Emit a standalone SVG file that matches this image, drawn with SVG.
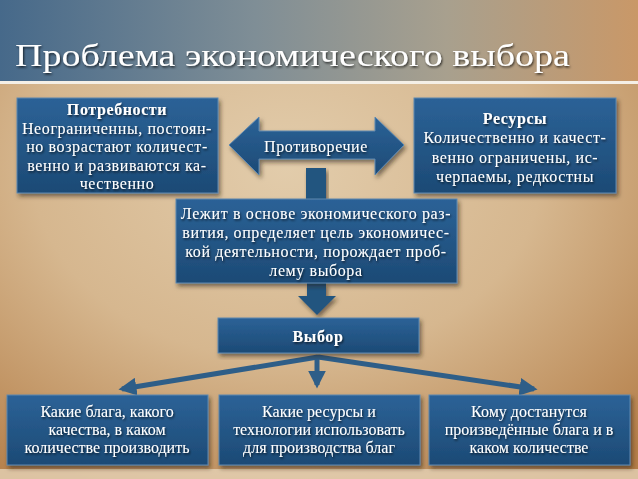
<svg xmlns="http://www.w3.org/2000/svg" width="638" height="479" viewBox="0 0 638 479">
<defs>
<linearGradient id="top" x1="0" y1="0" x2="1" y2="0">
<stop offset="0" stop-color="#46698a"/>
<stop offset="0.4" stop-color="#7f8e96"/>
<stop offset="0.7" stop-color="#a8a08e"/>
<stop offset="1" stop-color="#c99868"/>
</linearGradient>
<radialGradient id="paper" cx="0.45" cy="0.35" r="0.8">
<stop offset="0" stop-color="#e2ccab"/>
<stop offset="0.5" stop-color="#d6b78f"/>
<stop offset="1" stop-color="#b47e48"/>
</radialGradient>
<linearGradient id="box" x1="0" y1="0" x2="0" y2="1">
<stop offset="0" stop-color="#2c6297"/>
<stop offset="1" stop-color="#1c4a75"/>
</linearGradient>
<filter id="sh" x="-10%" y="-10%" width="125%" height="130%">
<feDropShadow dx="2" dy="3" stdDeviation="2" flood-color="#2a1a0a" flood-opacity="0.55"/>
</filter>
<filter id="tsh" x="-5%" y="-20%" width="110%" height="150%">
<feDropShadow dx="1" dy="1.5" stdDeviation="1" flood-color="#000" flood-opacity="0.7"/>
</filter>
<marker id="ah" viewBox="0 0 10 10" refX="8" refY="5" markerWidth="3.6" markerHeight="3.6" orient="auto" markerUnits="strokeWidth">
<path d="M0,0 L10,5 L0,10 Z" fill="#2e5e88"/>
</marker>
<style>
.bx{fill:url(#box);stroke:#5d88b0;stroke-width:1;filter:url(#sh)}
.t{font-family:"Liberation Serif","DejaVu Serif",serif;font-size:16px;letter-spacing:0.6px;fill:#ffffff;text-anchor:middle}
.b{font-weight:bold}
.tb{font-family:"Liberation Serif","DejaVu Serif",serif;font-size:16px;fill:#ffffff;text-anchor:middle}
.ttl{font-family:"Liberation Serif","DejaVu Serif",serif;font-size:31px;fill:#ffffff}
.cn{fill:none;stroke:#2e5e88;stroke-width:5;marker-end:url(#ah)}
</style>
</defs>
<rect x="0" y="0" width="638" height="479" fill="url(#paper)"/>
<rect x="0" y="469" width="638" height="10" fill="#e6d3b8" opacity="0.8"/>
<rect x="0" y="0" width="638" height="81" fill="url(#top)"/>
<rect x="0" y="81" width="638" height="3" fill="#f4efe6"/>
<text class="ttl" x="15" y="66" filter="url(#tsh)" textLength="555" lengthAdjust="spacingAndGlyphs">Проблема экономического выбора</text>

<g id="potrebnosti">
<rect class="bx" x="17" y="98" width="201" height="95"/>
<text class="t" filter="url(#tsh)"><tspan class="b" x="117" y="115">Потребности</tspan><tspan x="117" y="134">Неограниченны, постоян-</tspan><tspan x="117" y="152">но возрастают количест-</tspan><tspan x="117" y="171">венно и развиваются ка-</tspan><tspan x="117" y="189">чественно</tspan></text>
</g>

<g id="resursy">
<rect class="bx" x="414" y="98" width="202" height="95"/>
<text class="t" filter="url(#tsh)"><tspan class="b" x="515" y="124">Ресурсы</tspan><tspan x="515" y="143">Количественно и качест-</tspan><tspan x="515" y="163">венно ограничены, ис-</tspan><tspan x="515" y="182">черпаемы, редкостны</tspan></text>
</g>

<g id="protivorechie">
<path class="bx" d="M229,145 L259,117 L259,131 L375,131 L375,117 L404,145 L375,175 L375,159 L259,159 L259,175 Z"/>
<text class="t" x="316" y="152" filter="url(#tsh)">Противоречие</text>
</g>

<g id="connectors">
<rect x="306" y="168" width="20" height="32" fill="#24557f" filter="url(#sh)"/>
<path d="M307,283 L326,283 L326,296 L336,296 L317,315 L298,296 L307,296 Z" fill="#24557f" filter="url(#sh)"/>
<path class="cn" d="M318,357 L122,389"/>
<path class="cn" d="M318,357 L534,389"/>
<path class="cn" d="M317,355 L317,385"/>
</g>

<g id="lezhit">
<rect class="bx" x="176" y="199" width="281" height="84"/>
<text class="t" filter="url(#tsh)"><tspan x="316" y="219">Лежит в основе экономического раз-</tspan><tspan x="316" y="238">вития, определяет цель экономичес-</tspan><tspan x="316" y="257">кой деятельности, порождает проб-</tspan><tspan x="316" y="276">лему выбора</tspan></text>
</g>

<g id="vybor">
<rect class="bx" x="218" y="318" width="201" height="35"/>
<text class="t b" x="318" y="342" filter="url(#tsh)">Выбор</text>
</g>

<g id="kakie-blaga">
<rect class="bx" x="7" y="395" width="201" height="70"/>
<text class="tb" filter="url(#tsh)"><tspan x="107" y="417">Какие блага, какого</tspan><tspan x="107" y="435">качества, в каком</tspan><tspan x="107" y="453">количестве производить</tspan></text>
</g>

<g id="kakie-resursy">
<rect class="bx" x="219" y="395" width="201" height="70"/>
<text class="tb" filter="url(#tsh)"><tspan x="319" y="417">Какие ресурсы и</tspan><tspan x="319" y="435">технологии использовать</tspan><tspan x="319" y="453">для производства благ</tspan></text>
</g>

<g id="komu">
<rect class="bx" x="429" y="395" width="201" height="70"/>
<text class="tb" filter="url(#tsh)"><tspan x="529" y="417">Кому достанутся</tspan><tspan x="529" y="435">произведённые блага и в</tspan><tspan x="529" y="453">каком количестве</tspan></text>
</g>
</svg>
